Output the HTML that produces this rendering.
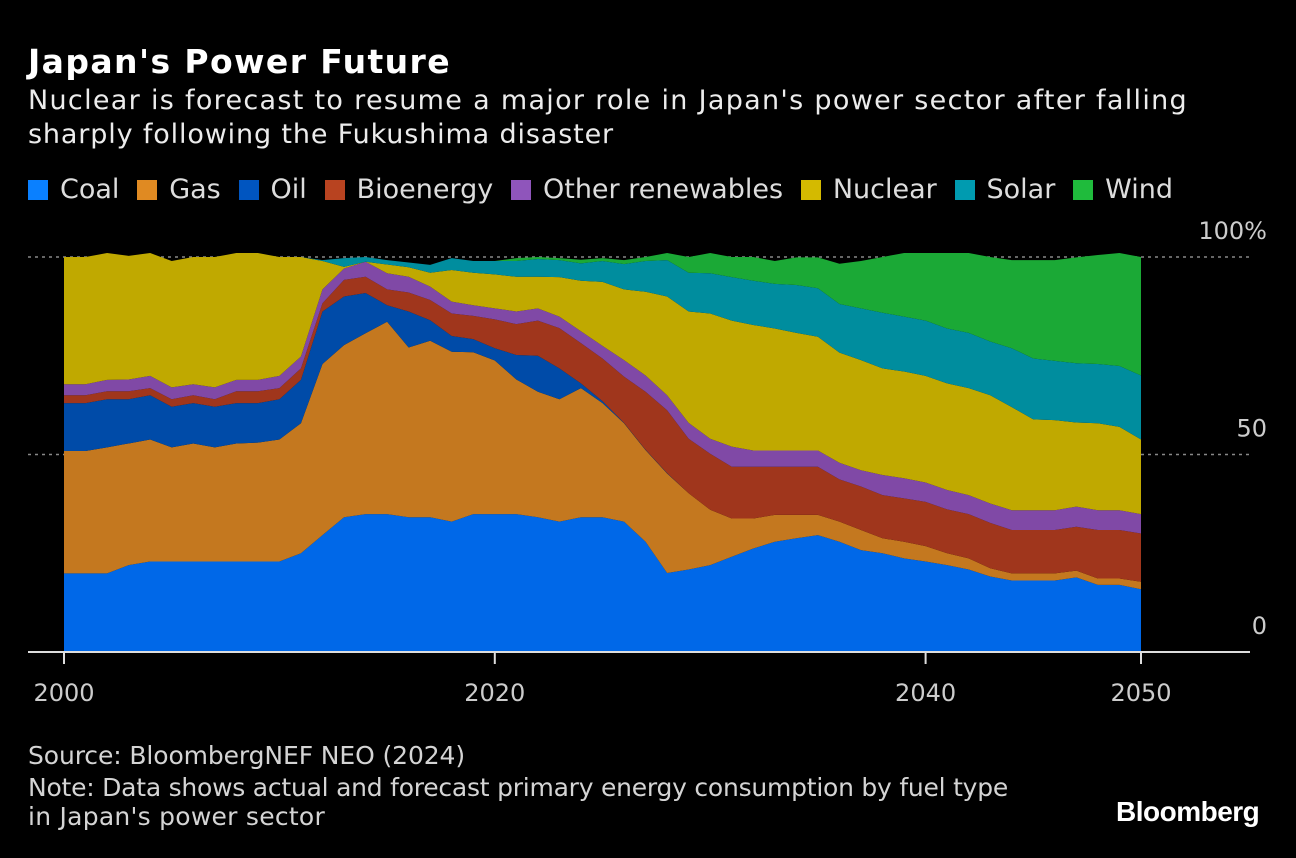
<!DOCTYPE html>
<html><head><meta charset="utf-8"><style>
html,body{margin:0;padding:0;background:#000;}
body{width:1296px;height:858px;overflow:hidden;font-family:"DejaVu Sans","Liberation Sans",sans-serif;color:#fff;position:relative;}
.t{position:absolute;left:28px;white-space:nowrap;}
.ln{display:inline-block;white-space:nowrap;}
</style></head><body>
<div class="t" style="top:42px;font-size:33px;font-weight:bold;"><span class="ln fit" data-w="423">Japan's Power Future</span></div>
<div class="t" style="top:84px;font-size:27px;line-height:34px;color:#ececec;"><span class="ln fit" data-w="1160">Nuclear is forecast to resume a major role in Japan's power sector after falling</span><br><span class="ln fit" data-w="586">sharply following the Fukushima disaster</span></div>
<div class="t" id="legend" style="top:174px;font-size:27px;color:#ddd;display:flex;"></div>
<svg id="chart" width="1296" height="858" style="position:absolute;left:0;top:0;"></svg>
<div class="t" style="top:740px;font-size:25px;line-height:32px;color:#d4d4d4;"><span class="ln fit" data-w="437">Source: BloombergNEF NEO (2024)</span><br><span class="ln fit" data-w="980">Note: Data shows actual and forecast primary energy consumption by fuel type</span><br><span class="ln fit" data-w="297" style="position:relative;top:-3px">in Japan's power sector</span></div>
<div style="position:absolute;left:1116px;top:796px;font-family:'Liberation Sans',sans-serif;font-size:28px;font-weight:bold;letter-spacing:-0.5px;">Bloomberg</div>
<script>
const seriesNames=["Coal","Gas","Oil","Bioenergy","Other renewables","Nuclear","Solar","Wind"];
const seriesColors=["#0068e8","#c4781f","#004ba8","#a0361c","#8049a6","#c0a900","#008d9e","#1ba936"];
const legendColors=["#0a80ff","#e08a22","#0055c0","#b84320","#8f55bb","#d4ba00","#009bb0","#1fbb3c"];
const years=[];for(let y=2000;y<=2050;y++)years.push(y);
const coal=[19.9,19.9,19.9,22,22.9,22.9,22.9,22.9,22.9,22.9,22.9,25,29.6,34.1,34.9,34.9,34.1,34.1,33,34.9,34.9,34.9,34.1,33,34.1,34.1,33,27.9,20,20.9,22,24.1,26.2,27.9,28.8,29.6,27.9,25.8,25,23.7,22.9,22,20.9,19.1,18.1,18.1,18.1,18.9,17,17,15.9];
const gas=[31,31,31.9,30.8,30.9,28.9,29.9,28.9,29.9,30.1,30.9,32.9,43.3,43.6,45.8,48.7,43,44.7,43,41,38.9,34.1,31.8,31,32.7,28.9,24.9,23.2,25.2,19.3,14,9.7,7.6,6.8,5.9,5.1,5.1,5.1,3.8,4.2,3.9,3,2.8,2.1,1.8,1.8,1.8,1.7,1.6,1.6,1.9];
const oil=[12.1,12.1,12.2,11.2,11.2,10.3,10.2,10.3,10.2,10,10.2,11,13.3,12.3,10.2,4.2,9.1,5.2,4,3.3,3.1,6.2,9.1,7.8,1.2,0.5,0.1,0.1,0.1,0,0,0,0,0,0,0,0,0,0,0,0,0,0,0,0,0,0,0,0,0,0];
const bio=[2,2,2,2,1.8,1.9,2,1.9,3,3,2.8,2.9,2.1,4.2,4.1,4,4.8,5.1,5.7,5.9,7.3,7.8,8.9,10.2,10.2,10.8,11.7,14.7,15.9,13.8,14.2,13.1,13.1,12.2,12.2,12.2,10.7,11,10.9,11,11.2,11.1,11.2,11.5,11,11,11,11.1,12.3,12.3,12.2];
const other=[2.8,2.8,2.9,3,3.1,3,2.8,3,2.9,2.9,3.1,3,3.5,2.9,3.8,4.1,4,3.4,3,2.7,2.8,3.2,3.1,2.9,3,3.2,4.2,4.1,3.8,4,3.8,5.1,4.1,4.1,4.1,4.1,4.2,4.1,5.1,5.1,4.9,4.9,4.8,4.9,5,5,5,5.1,5,5,4.9];
const nuclear=[32.2,32.2,32.1,31.3,31.1,32,32.2,33,32.1,32.1,30.1,25.2,7.2,0.4,0,2.2,2.4,3.5,8,8.2,8.6,8.8,8,10,12.8,16.2,17.9,21.2,25,28.2,31.7,31.9,31.8,30.9,29.8,28.8,27.9,27.9,27,27,27,27,27.1,27.4,26.1,23,22.8,21.3,22,21.1,18.9];
const solar=[0,0,0,0,0,0,0,0,0,0,0,0,0.2,2.2,1.2,1.1,1.2,2,3,3,3.4,4,4.5,4.3,4.4,5.3,6.4,7.8,9.2,9.8,10.2,11,11.2,11.3,12.1,12.3,12.3,13.1,14.1,13.9,14,13.9,14,13.6,14.9,15.4,15,15,15,15.4,16.2];
const wind=[0,0,0,0,0,0,0,0,0,0,0,0,0,0,0,0,0,0,0,0,0,0.7,0.5,0.5,0.9,0.7,1,1,1.8,4,5.1,5.1,6,5.8,7,7.8,10.2,12,14.1,16.1,17.1,19.1,20.2,21.4,22.3,24.9,25.5,26.8,27.6,28.6,30];
const yTicks=[0,50,100];
const yTickLabels=["0","50","100%"];
const xTicks=[2000,2020,2040,2050];
const series=[coal,gas,oil,bio,other,nuclear,solar,wind];
const NS="http://www.w3.org/2000/svg";
const svg=document.getElementById('chart');
const X=y=>64+(y-2000)*(1141-64)/50;
const Y=v=>652-v*3.95;
function mk(t,a){const e=document.createElementNS(NS,t);for(const k in a)e.setAttribute(k,a[k]);svg.appendChild(e);return e;}
const FF='DejaVu Sans, Liberation Sans, sans-serif';
yTicks.forEach((t,i)=>{
  if(t>0){const g=mk('line',{x1:28,x2:1250,y1:Y(t),y2:Y(t),stroke:'#888','stroke-width':1.5,'stroke-dasharray':'3,4'});
  
  }
  const tx=mk('text',{x:1267,y:Y(t)-18,'text-anchor':'end','font-size':24,fill:'#ccc','font-family':FF});
  tx.textContent=yTickLabels[i];
  
  
});
const base=years.map(()=>0);
series.forEach((s,si)=>{
  const top=base.map((b,i)=>b+s[i]);
  let d='M'+years.map((y,i)=>X(y)+','+Y(top[i])).join('L');
  for(let i=years.length-1;i>=0;i--)d+='L'+X(years[i])+','+Y(base[i]);
  const p=mk('path',{d:d+'Z',fill:seriesColors[si]});
  
  
  top.forEach((v,i)=>base[i]=v);
});
const ax=mk('line',{x1:28,x2:1250,y1:652,y2:652,stroke:'#ddd','stroke-width':2});


xTicks.forEach(t=>{
  const l=mk('line',{x1:X(t),x2:X(t),y1:652,y2:664,stroke:'#ddd','stroke-width':2});
  
  
  const tx=mk('text',{x:X(t),y:701,'text-anchor':'middle','font-size':24,fill:'#ccc','font-family':FF});
  tx.textContent=t;
  
  
});
const lg=document.getElementById('legend');
seriesNames.forEach((n,i)=>{
  const it=document.createElement('div');
  
  
  it.className='lgi';
  it.style.cssText='display:flex;align-items:center;margin-right:18px;';
  it.innerHTML='<span style="display:inline-block;width:20px;height:20px;background:'+legendColors[i]+';margin-right:12px"></span>'+n;
  lg.appendChild(it);
});
// fit text widths
document.querySelectorAll('.fit').forEach(el=>{
  const target=+el.getAttribute('data-w');
  const w=el.getBoundingClientRect().width;
  const n=el.textContent.length;
  el.style.letterSpacing=((target-w)/n)+'px';
});
// fit legend width to 1145
(function(){
  const items=lg.querySelectorAll('.lgi');
  const w=lg.getBoundingClientRect().width-18;
  const extra=(1145-w)/(items.length-1);
  items.forEach(it=>it.style.marginRight=(18+extra)+'px');
})();
</script>
</body></html>
